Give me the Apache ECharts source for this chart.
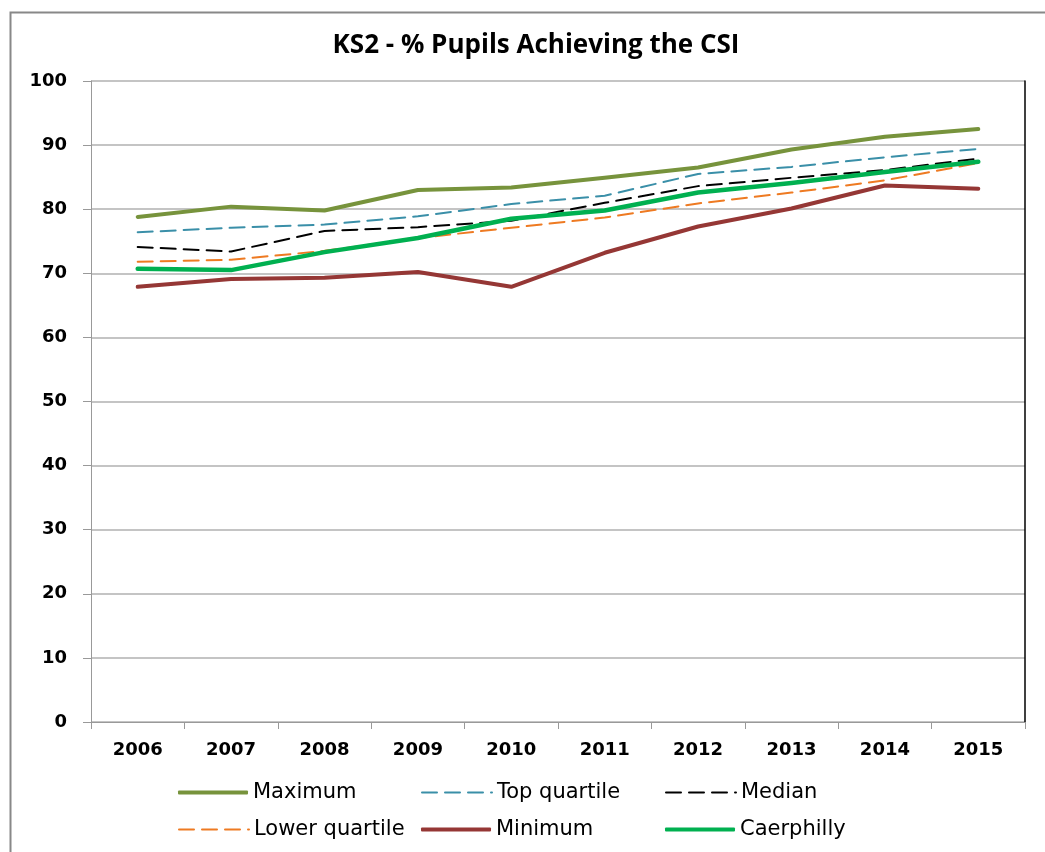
<!DOCTYPE html>
<html>
<head>
<meta charset="utf-8">
<script src="https://cdn.jsdelivr.net/npm/echarts@6/dist/echarts.min.js"></script>
<style>
html,body{margin:0;padding:0;background:#fff;}
#chart{width:1045px;height:852px;}
</style>
</head>
<body>
<div id="chart"></div>
<script>
const categories = ['2006','2007','2008','2009','2010','2011','2012','2013','2014','2015'];
const maximum = [78.8, 80.4, 79.8, 83.0, 83.4, 84.9, 86.5, 89.3, 91.3, 92.5];
const topQuartile = [76.4, 77.1, 77.6, 78.9, 80.8, 82.1, 85.5, 86.6, 88.1, 89.4];
const median = [74.1, 73.4, 76.6, 77.2, 78.2, 81.0, 83.6, 84.9, 86.1, 87.9];
const lowerQuartile = [71.8, 72.1, 73.5, 75.5, 77.1, 78.7, 80.9, 82.6, 84.5, 87.2];
const minimum = [67.9, 69.1, 69.3, 70.2, 67.9, 73.2, 77.3, 80.1, 83.7, 83.2];
const caerphilly = [70.7, 70.5, 73.3, 75.5, 78.5, 79.8, 82.6, 84.1, 85.8, 87.4];
const title = 'KS2 - % Pupils Achieving the CSI';

const chart = echarts.init(document.getElementById('chart'), null, {renderer: 'canvas'});

const legendText = {fontFamily: 'DejaVu Sans', fontSize: 21, color: '#000'};
function leg(name, left, top, solid) {
  const o = {
    data: [name], left: left, top: top, itemWidth: 70, itemHeight: 4, itemGap: 0,
    textStyle: legendText, padding: 0
  };
  if (solid) {
    o.icon = 'roundRect';
  } else {
    o.itemStyle = {opacity: 0};
    o.lineStyle = {width: 2, type: [15, 8]};
  }
  return o;
}
function line(name, data, color, width, dashed, z) {
  return {
    name: name, type: 'line', data: data, symbol: 'none', z: z,
    lineStyle: {color: color, width: width, type: dashed ? [15, 8] : 'solid', cap: 'round', join: 'round'},
    itemStyle: {color: color},
    emphasis: {disabled: true}
  };
}

chart.setOption({
  animation: false,
  backgroundColor: '#fff',
  graphic: [{
    type: 'rect', left: 8, top: 10, z: -1,
    shape: {width: 1060, height: 870},
    style: {fill: 'none', stroke: '#888', lineWidth: 2}
  }],
  title: {
    text: title, left: 531, top: 28, textAlign: 'center',
    textStyle: {fontFamily: 'Open Sans', fontWeight: 'bold', fontSize: 26, color: '#000'}
  },
  legend: [
    leg('Maximum', 178, 782, true),
    leg('Top quartile', 421, 782, false),
    leg('Median', 665, 782, false),
    leg('Lower quartile', 178, 819, false),
    leg('Minimum', 421, 819, true),
    leg('Caerphilly', 665, 819, true)
  ],
  grid: {left: 91, right: 20, top: 81, bottom: 130, show: false},
  xAxis: {
    type: 'category', data: categories, boundaryGap: true,
    axisLine: {show: true, lineStyle: {color: '#999', width: 1}},
    axisTick: {show: true, length: 7, lineStyle: {color: '#999'}},
    axisLabel: {fontFamily: 'DejaVu Sans', fontWeight: 'bold', fontSize: 18, color: '#000', margin: 19},
    splitLine: {show: false}
  },
  yAxis: [{
    type: 'value', min: 0, max: 100, interval: 10,
    axisLine: {show: true, lineStyle: {color: '#999', width: 1}},
    axisTick: {show: true, length: 8, lineStyle: {color: '#999'}},
    axisLabel: {fontFamily: 'DejaVu Sans', fontWeight: 'bold', fontSize: 18, color: '#000', margin: 24},
    splitLine: {show: true, lineStyle: {color: '#b0b0b0', width: 1.5}}
  }, {
    type: 'value', min: 0, max: 100, interval: 10, position: 'right',
    axisLine: {show: true, lineStyle: {color: '#000', width: 1.5}},
    axisTick: {show: false}, axisLabel: {show: false}, splitLine: {show: false}
  }],
  series: [
    line('Maximum', maximum, '#77933C', 4, false, 2),
    line('Top quartile', topQuartile, '#3A8FA8', 2, true, 3),
    line('Median', median, '#000000', 2, true, 4),
    line('Lower quartile', lowerQuartile, '#EE7A22', 2, true, 3),
    line('Minimum', minimum, '#953735', 4, false, 2),
    line('Caerphilly', caerphilly, '#00B050', 4.5, false, 5)
  ]
});
</script>
</body>
</html>
